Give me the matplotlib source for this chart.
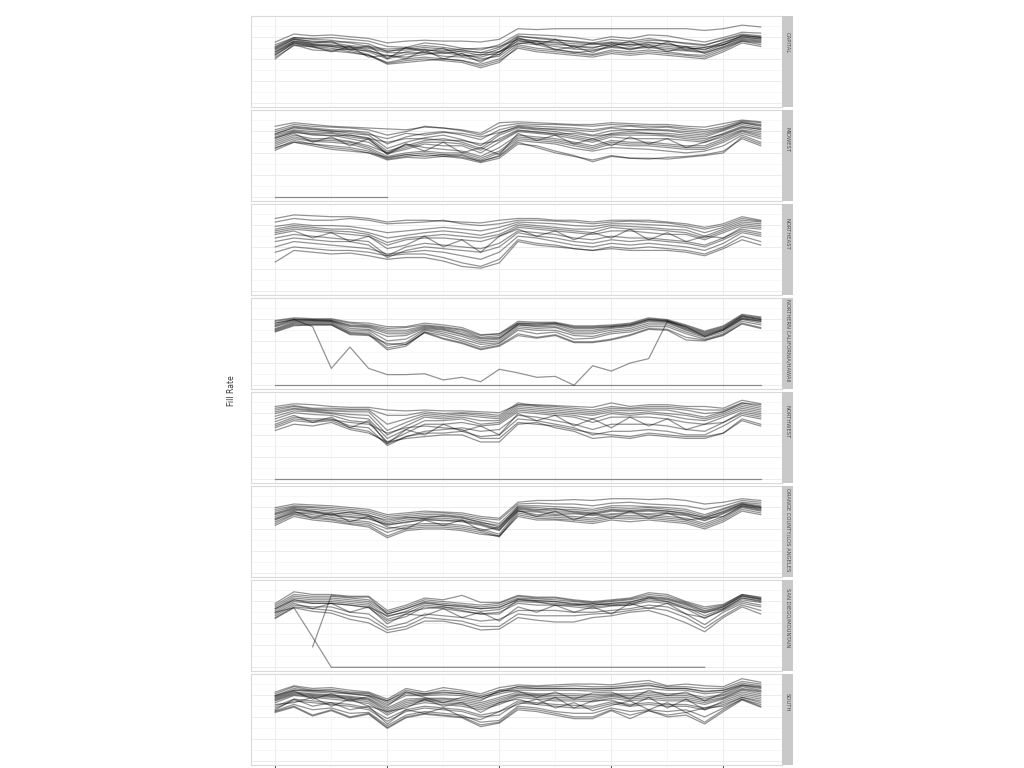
import numpy as np
import matplotlib.pyplot as plt

# weekly fill rate per store, one facet per region (values in percent)
weeks = np.arange(27)
regions = ["CAPITAL", "MIDWEST", "NORTHEAST", "NORTHERN CALIFORNIA/HAWAII",
           "NORTHWEST", "ORANGE COUNTY/LOS ANGELES", "SAN DIEGO/MOUNTAIN", "SOUTH"]
nan = np.nan

capital = [
    [69, 78, 76, 77, 75, 73, 68, 70, 71, 70, 70, 69, 72, 84, 83, 84, 84, 84, 84, 84, 84, 84, 84, 82, 84, 88, 86],
    [64, 74, 73, 74, 72, 70, 64, 63, 68, 66, 62, 60, 66, 78, 77, 76, 74, 71, 75, 73, 77, 76, 72, 69, 74, 80, 79],
    [61, 72, 70, 69, 69, 67, 58, 62, 65, 63, 60, 57, 63, 76, 73, 71, 70, 68, 72, 70, 73, 70, 67, 65, 72, 78, 76],
    [58, 70, 68, 70, 60, 65, 50, 63, 58, 62, 53, 55, 55, 74, 66, 72, 62, 68, 64, 70, 62, 69, 60, 63, 66, 76, 74],
    [56, 69, 66, 65, 64, 60, 52, 58, 61, 57, 54, 52, 58, 73, 70, 68, 64, 62, 68, 64, 68, 67, 63, 60, 69, 75, 72],
    [62, 72, 67, 66, 63, 62, 57, 57, 57, 56, 59, 57, 58, 70, 68, 66, 65, 63, 66, 66, 66, 64, 62, 61, 66, 74, 73],
    [54, 68, 65, 64, 62, 58, 50, 55, 57, 53, 52, 48, 55, 71, 67, 64, 61, 60, 64, 62, 64, 62, 60, 58, 66, 73, 71],
    [52, 65, 64, 58, 64, 52, 54, 50, 60, 50, 56, 46, 58, 67, 70, 60, 64, 57, 66, 60, 66, 58, 64, 56, 64, 72, 70],
    [50, 66, 60, 59, 57, 54, 46, 50, 52, 50, 48, 44, 50, 66, 62, 60, 58, 55, 60, 58, 60, 58, 55, 54, 62, 70, 68],
    [60, 70, 66, 64, 60, 55, 45, 48, 50, 48, 46, 40, 46, 64, 60, 58, 56, 54, 58, 56, 58, 56, 54, 52, 60, 70, 66],
    [66, 74, 72, 71, 68, 64, 61, 62, 60, 59, 61, 62, 64, 72, 70, 69, 67, 66, 68, 66, 69, 66, 64, 63, 68, 76, 75],
    [58, 68, 64, 62, 58, 54, 44, 46, 48, 50, 48, 42, 48, 62, 58, 56, 54, 52, 56, 54, 56, 54, 52, 50, 58, 68, 64],
    [55, 67, 63, 60, 61, 59, 54, 52, 55, 58, 56, 50, 53, 68, 66, 61, 57, 59, 63, 61, 63, 60, 59, 57, 63, 71, 69],
    [63, 73, 69, 68, 65, 63, 59, 60, 63, 61, 58, 54, 61, 75, 74, 72, 69, 67, 69, 68, 71, 70, 68, 66, 71, 77, 74],
]

midwest = [
    [80, 84, 82, 80, 79, 78, 77, 76, 79, 78, 76, 72, 84, 85, 84, 83, 82, 82, 84, 83, 82, 82, 80, 79, 83, 87, 85],
    [76, 82, 80, 79, 78, 76, 70, 74, 80, 78, 75, 70, 80, 83, 82, 82, 81, 80, 82, 81, 80, 80, 78, 76, 80, 86, 84],
    [74, 80, 78, 76, 75, 73, 60, 68, 72, 74, 70, 65, 76, 81, 80, 79, 78, 76, 79, 80, 78, 79, 76, 74, 78, 85, 82],
    [72, 78, 76, 75, 72, 70, 55, 62, 67, 70, 65, 58, 72, 80, 78, 76, 74, 70, 75, 76, 76, 75, 72, 70, 76, 84, 80],
    [70, 76, 74, 73, 70, 67, 52, 58, 64, 66, 62, 55, 70, 78, 76, 74, 70, 66, 72, 74, 72, 72, 70, 68, 75, 82, 78],
    [68, 75, 72, 72, 68, 65, 50, 56, 62, 62, 60, 53, 66, 76, 73, 72, 68, 64, 70, 70, 70, 69, 66, 64, 72, 80, 76],
    [66, 74, 70, 70, 66, 62, 49, 54, 60, 58, 58, 50, 62, 74, 72, 70, 66, 62, 68, 66, 66, 66, 64, 62, 70, 78, 74],
    [64, 72, 62, 68, 58, 66, 48, 60, 52, 62, 50, 56, 48, 72, 64, 70, 60, 66, 58, 68, 60, 66, 56, 62, 68, 76, 72],
    [62, 70, 66, 66, 63, 58, 50, 60, 56, 54, 52, 46, 56, 70, 68, 66, 62, 58, 64, 62, 62, 60, 58, 58, 66, 75, 70],
    [60, 68, 64, 64, 62, 56, 46, 50, 52, 50, 50, 44, 52, 68, 66, 64, 60, 56, 62, 60, 60, 58, 56, 56, 64, 74, 68],
    [58, 66, 63, 62, 60, 54, 44, 48, 50, 48, 48, 42, 50, 66, 64, 62, 58, 54, 60, 58, 58, 56, 54, 54, 62, 72, 66],
    [55, 64, 60, 58, 56, 52, 43, 46, 48, 46, 47, 40, 47, 64, 62, 60, 55, 52, 56, 55, 54, 52, 50, 52, 58, 70, 62],
    [53, 62, 58, 54, 52, 50, 42, 45, 44, 46, 44, 39, 44, 60, 58, 52, 47, 40, 46, 44, 43, 45, 46, 48, 52, 66, 58],
    [56, 62, 60, 56, 54, 50, 45, 48, 46, 48, 45, 41, 46, 62, 56, 50, 46, 42, 47, 44, 44, 43, 45, 47, 50, 68, 60],
    [71, 79, 77, 74, 74, 71, 66, 72, 70, 73, 72, 68, 73, 79, 77, 77, 76, 74, 78, 76, 76, 76, 74, 72, 77, 84, 81],
    [67, 73, 71, 69, 70, 66, 62, 66, 66, 64, 64, 60, 64, 75, 74, 71, 72, 69, 71, 72, 72, 70, 68, 66, 71, 79, 77],
    [0, 0, 0, 0, 0, 0, 0, nan, nan, nan, nan, nan, nan, nan, nan, nan, nan, nan, nan, nan, nan, nan, nan, nan, nan, nan, nan],
]

northeast = [
    [82, 86, 85, 84, 84, 82, 78, 80, 80, 79, 78, 77, 80, 82, 82, 80, 80, 78, 80, 80, 80, 78, 76, 72, 76, 84, 80],
    [78, 82, 80, 80, 82, 80, 76, 77, 78, 80, 76, 74, 76, 80, 80, 79, 78, 76, 78, 79, 78, 77, 74, 70, 74, 82, 79],
    [73, 76, 74, 74, 73, 70, 66, 68, 70, 72, 70, 68, 72, 78, 77, 76, 74, 73, 76, 76, 75, 74, 72, 66, 72, 80, 78],
    [70, 74, 72, 70, 70, 66, 60, 63, 66, 68, 66, 63, 68, 76, 74, 72, 70, 70, 74, 73, 72, 70, 69, 62, 70, 78, 76],
    [68, 72, 70, 68, 67, 64, 55, 60, 62, 64, 62, 60, 64, 74, 72, 70, 68, 66, 72, 70, 70, 68, 66, 60, 68, 76, 74],
    [66, 70, 68, 66, 64, 62, 52, 58, 60, 60, 58, 56, 62, 72, 70, 68, 66, 64, 68, 68, 66, 64, 64, 58, 66, 74, 72],
    [64, 68, 60, 66, 56, 62, 48, 52, 62, 50, 58, 44, 62, 70, 62, 68, 58, 66, 60, 70, 58, 66, 56, 62, 60, 72, 70],
    [60, 64, 62, 60, 58, 56, 40, 50, 54, 52, 50, 48, 54, 68, 66, 64, 60, 58, 62, 60, 60, 58, 56, 52, 60, 70, 66],
    [56, 60, 58, 56, 56, 52, 38, 46, 50, 48, 46, 44, 50, 66, 62, 60, 56, 54, 58, 56, 58, 56, 54, 50, 58, 68, 64],
    [50, 56, 54, 52, 50, 48, 42, 44, 46, 44, 40, 36, 44, 62, 60, 56, 52, 50, 54, 52, 54, 52, 50, 46, 54, 66, 62],
    [44, 50, 48, 46, 46, 44, 40, 42, 42, 38, 32, 28, 36, 58, 54, 52, 48, 46, 50, 48, 50, 48, 46, 42, 50, 62, 56],
    [33, 46, 44, 42, 43, 40, 36, 38, 38, 34, 28, 26, 32, 56, 52, 50, 48, 46, 48, 46, 46, 46, 44, 40, 48, 58, 52],
]

norcal = [
    [73, 76, 75, 75, 71, 70, 66, 66, 70, 68, 65, 57, 58, 72, 71, 71, 67, 67, 68, 70, 76, 74, 68, 61, 67, 80, 77],
    [72, 75, 74, 74, 70, 68, 64, 65, 68, 66, 63, 56, 58, 70, 70, 70, 66, 66, 67, 69, 75, 73, 67, 60, 66, 79, 76],
    [70, 74, 74, 73, 68, 67, 62, 62, 67, 65, 62, 54, 56, 70, 69, 70, 65, 65, 66, 68, 74, 73, 66, 59, 65, 78, 75],
    [68, 74, 73, 73, 67, 66, 60, 60, 66, 64, 60, 53, 54, 69, 68, 69, 64, 64, 66, 68, 74, 72, 65, 58, 64, 78, 74],
    [67, 73, 73, 72, 66, 65, 58, 58, 65, 63, 58, 52, 53, 68, 67, 68, 62, 62, 65, 67, 73, 72, 64, 57, 63, 77, 74],
    [66, 72, 72, 72, 64, 63, 55, 56, 64, 62, 57, 50, 52, 68, 66, 66, 60, 60, 64, 66, 72, 71, 63, 56, 63, 76, 73],
    [64, 71, 71, 71, 62, 62, 50, 52, 63, 60, 55, 48, 50, 66, 64, 65, 58, 58, 62, 64, 70, 70, 62, 55, 62, 75, 72],
    [63, 70, 70, 70, 60, 60, 45, 48, 62, 58, 52, 46, 48, 64, 62, 62, 56, 55, 60, 62, 68, 68, 60, 54, 60, 74, 70],
    [62, 69, 69, 69, 59, 58, 42, 46, 60, 56, 50, 43, 47, 62, 58, 60, 52, 53, 58, 60, 66, 66, 58, 52, 58, 72, 68],
    [60, 67, 68, 68, 58, 57, 40, 44, 60, 53, 48, 41, 45, 58, 54, 57, 49, 49, 52, 57, 64, 63, 54, 51, 56, 70, 65],
    [61, 68, 68, 68, 57, 56, 47, 46, 59, 52, 47, 40, 44, 56, 53, 56, 48, 48, 51, 56, 63, 62, 51, 50, 57, 69, 64],
    [70, 74, 66, 19, 43, 19, 12, 12, 13, 6, 9, 4, 18, 14, 9, 10, 0, 22, 16, 25, 30, 72, 66, 55, 62, 75, 72],
    [0] * 27,
]

northwest = [
    [82, 85, 84, 82, 81, 81, 78, 77, 78, 77, 77, 76, 75, 84, 84, 83, 82, 81, 86, 82, 84, 84, 82, 82, 80, 89, 85],
    [80, 83, 80, 80, 79, 79, 72, 72, 76, 74, 75, 74, 72, 86, 83, 82, 80, 78, 82, 80, 82, 82, 80, 78, 78, 86, 84],
    [78, 82, 79, 78, 78, 78, 62, 68, 74, 72, 74, 72, 70, 84, 82, 80, 78, 76, 80, 79, 80, 80, 78, 74, 76, 86, 82],
    [76, 80, 78, 77, 76, 76, 55, 64, 72, 70, 72, 70, 68, 82, 80, 78, 76, 74, 78, 77, 78, 78, 74, 70, 76, 84, 80],
    [74, 79, 77, 75, 73, 72, 50, 60, 70, 68, 70, 66, 66, 80, 78, 76, 74, 72, 76, 74, 76, 74, 72, 68, 74, 82, 78],
    [71, 77, 76, 74, 70, 68, 46, 56, 66, 66, 68, 62, 64, 78, 76, 74, 72, 68, 74, 72, 74, 72, 68, 66, 72, 80, 76],
    [68, 75, 73, 72, 66, 64, 42, 52, 62, 62, 64, 60, 62, 76, 74, 72, 70, 64, 70, 70, 70, 68, 64, 62, 70, 78, 74],
    [65, 72, 64, 70, 58, 66, 40, 56, 50, 62, 54, 60, 50, 74, 66, 72, 60, 68, 58, 70, 60, 68, 56, 62, 64, 76, 72],
    [62, 70, 68, 68, 60, 58, 38, 48, 54, 56, 58, 54, 56, 72, 70, 66, 62, 56, 62, 62, 62, 60, 56, 54, 64, 74, 70],
    [58, 66, 64, 66, 58, 54, 40, 48, 52, 52, 54, 48, 50, 68, 66, 62, 58, 50, 54, 54, 56, 54, 50, 50, 60, 72, 68],
    [55, 62, 60, 64, 56, 52, 42, 46, 48, 50, 50, 42, 42, 62, 64, 58, 54, 46, 48, 46, 50, 48, 46, 46, 52, 68, 62],
    [60, 68, 66, 67, 64, 62, 52, 58, 60, 58, 56, 46, 46, 64, 62, 60, 56, 52, 50, 48, 52, 50, 48, 48, 52, 66, 60],
    [0] * 27,
]

orange_la = [
    [74, 78, 77, 76, 74, 72, 66, 68, 70, 69, 68, 64, 62, 80, 82, 82, 83, 82, 84, 84, 83, 84, 82, 78, 80, 84, 82],
    [72, 76, 75, 74, 72, 70, 64, 66, 68, 68, 66, 62, 60, 78, 79, 78, 78, 76, 79, 80, 78, 77, 76, 72, 76, 82, 80],
    [70, 75, 74, 72, 70, 68, 62, 64, 66, 66, 64, 60, 56, 76, 76, 75, 74, 72, 76, 76, 75, 74, 72, 66, 73, 80, 78],
    [68, 74, 72, 70, 68, 66, 58, 62, 64, 64, 62, 58, 52, 75, 74, 72, 72, 70, 74, 73, 74, 72, 70, 64, 72, 79, 76],
    [66, 72, 70, 68, 66, 64, 56, 60, 62, 62, 60, 56, 50, 74, 72, 70, 70, 68, 72, 71, 72, 70, 68, 62, 70, 78, 75],
    [64, 71, 69, 66, 64, 62, 54, 58, 60, 60, 58, 54, 48, 72, 70, 68, 68, 66, 70, 69, 70, 68, 66, 60, 68, 77, 74],
    [62, 70, 62, 68, 58, 64, 52, 50, 60, 54, 60, 48, 52, 71, 64, 70, 60, 68, 62, 70, 62, 68, 60, 62, 64, 76, 72],
    [60, 69, 66, 63, 60, 58, 50, 54, 56, 56, 54, 50, 44, 70, 66, 65, 64, 62, 66, 65, 66, 64, 62, 56, 64, 75, 71],
    [58, 67, 64, 61, 58, 56, 46, 52, 54, 54, 52, 48, 42, 68, 64, 63, 62, 60, 64, 63, 64, 62, 60, 54, 62, 74, 70],
    [56, 66, 62, 60, 56, 54, 42, 50, 52, 52, 50, 46, 41, 66, 62, 61, 60, 58, 62, 61, 62, 60, 58, 52, 60, 72, 68],
    [54, 64, 60, 58, 55, 52, 40, 48, 50, 50, 48, 44, 42, 64, 60, 60, 58, 56, 60, 58, 60, 58, 56, 50, 58, 70, 66],
    [67, 73, 70, 66, 69, 65, 60, 63, 62, 65, 63, 57, 54, 73, 71, 73, 69, 67, 71, 70, 71, 70, 67, 63, 69, 78, 74],
    [61, 68, 68, 65, 63, 61, 55, 57, 61, 59, 59, 55, 49, 70, 69, 66, 67, 65, 67, 68, 67, 67, 65, 59, 67, 76, 73],
]

sandiego = [
    [72, 85, 82, 82, 80, 80, 64, 70, 78, 76, 81, 73, 73, 81, 79, 79, 76, 74, 76, 78, 84, 82, 74, 68, 71, 82, 79],
    [70, 82, 80, 80, 78, 76, 62, 68, 76, 74, 72, 70, 72, 80, 78, 78, 75, 73, 75, 77, 82, 80, 73, 66, 70, 82, 78],
    [68, 80, 78, 78, 76, 74, 60, 66, 74, 72, 70, 68, 70, 78, 77, 76, 74, 72, 74, 76, 80, 78, 72, 64, 69, 81, 77],
    [66, 78, 76, 76, 74, 72, 57, 63, 72, 70, 68, 66, 68, 76, 75, 74, 72, 70, 72, 74, 78, 76, 70, 61, 68, 80, 76],
    [64, 76, 74, 74, 72, 70, 54, 60, 70, 68, 66, 63, 65, 74, 73, 72, 70, 68, 70, 72, 76, 74, 68, 58, 66, 78, 75],
    [62, 74, 72, 72, 70, 67, 52, 57, 68, 66, 63, 60, 62, 72, 70, 70, 68, 66, 69, 70, 74, 72, 66, 55, 65, 76, 73],
    [60, 72, 66, 72, 62, 68, 49, 60, 58, 66, 56, 62, 52, 68, 62, 70, 62, 68, 60, 72, 66, 72, 60, 56, 64, 74, 70],
    [58, 70, 68, 68, 62, 60, 45, 50, 60, 58, 56, 52, 54, 64, 64, 64, 62, 62, 64, 66, 70, 68, 60, 48, 62, 72, 68],
    [56, 68, 66, 64, 58, 55, 42, 46, 56, 54, 52, 46, 46, 60, 58, 58, 58, 60, 61, 64, 67, 64, 56, 44, 58, 70, 64],
    [55, 67, 63, 61, 54, 50, 39, 43, 52, 52, 48, 42, 43, 56, 53, 51, 51, 56, 58, 62, 64, 58, 50, 40, 56, 68, 60],
    [66, 76, 72, 72, 70, 68, 58, 62, 66, 68, 64, 60, 60, 76, 74, 70, 70, 72, 70, 70, 78, 74, 66, 62, 66, 78, 74],
    [62, 67, 34, 0, 0, 0, 0, 0, 0, 0, 0, 0, 0, 0, 0, 0, 0, 0, 0, 0, 0, 0, 0, 0, nan, nan, nan],
    [nan, nan, 23, 81, 79, 79, 60, 66, 73, 70, 69, 66, 67, 77, 75, 74, 71, 70, 72, 73, 79, 77, 71, 63, 68, 80, 77],
]

south = [
    [78, 85, 82, 83, 80, 78, 70, 82, 78, 83, 80, 76, 83, 86, 85, 86, 87, 87, 86, 89, 91, 85, 87, 85, 84, 93, 89],
    [76, 84, 80, 81, 78, 77, 68, 80, 76, 80, 78, 74, 80, 84, 84, 84, 85, 84, 84, 86, 88, 84, 84, 82, 82, 90, 87],
    [74, 82, 79, 79, 77, 76, 66, 76, 75, 77, 76, 72, 78, 82, 82, 82, 82, 82, 82, 83, 85, 82, 82, 79, 80, 88, 85],
    [73, 80, 78, 77, 76, 74, 64, 74, 74, 75, 74, 70, 76, 80, 80, 80, 80, 79, 80, 80, 82, 80, 80, 76, 78, 86, 83],
    [72, 79, 70, 76, 68, 73, 62, 78, 72, 66, 72, 68, 80, 79, 72, 78, 70, 77, 78, 70, 80, 74, 78, 68, 77, 85, 82],
    [71, 78, 76, 75, 73, 71, 60, 70, 71, 71, 70, 66, 72, 78, 76, 76, 76, 75, 76, 76, 78, 76, 76, 72, 75, 84, 80],
    [70, 77, 75, 74, 72, 70, 58, 68, 70, 70, 68, 64, 70, 76, 75, 74, 74, 73, 75, 74, 76, 74, 74, 70, 74, 82, 79],
    [69, 76, 74, 73, 71, 69, 56, 66, 69, 68, 66, 62, 68, 75, 74, 72, 72, 71, 74, 72, 74, 72, 72, 68, 72, 81, 78],
    [68, 75, 73, 72, 70, 67, 54, 64, 68, 66, 64, 60, 66, 74, 72, 70, 70, 69, 73, 70, 72, 70, 70, 66, 71, 80, 76],
    [66, 74, 72, 70, 68, 65, 52, 62, 66, 64, 62, 58, 64, 72, 70, 68, 68, 67, 71, 68, 70, 68, 68, 64, 70, 78, 74],
    [64, 66, 72, 62, 70, 62, 56, 60, 70, 62, 66, 55, 66, 70, 64, 72, 60, 68, 69, 62, 72, 60, 70, 58, 68, 76, 72],
    [62, 70, 68, 66, 64, 60, 48, 58, 62, 60, 58, 52, 56, 68, 66, 64, 63, 62, 67, 64, 66, 64, 64, 60, 66, 74, 70],
    [60, 68, 66, 64, 62, 58, 45, 56, 60, 58, 56, 50, 52, 66, 64, 62, 60, 60, 65, 62, 64, 62, 62, 58, 64, 72, 68],
    [58, 70, 62, 66, 58, 62, 42, 58, 54, 60, 50, 47, 56, 64, 70, 60, 66, 57, 63, 68, 58, 66, 55, 60, 62, 72, 66],
    [57, 64, 58, 60, 54, 55, 40, 52, 56, 54, 52, 44, 46, 62, 60, 56, 54, 54, 60, 56, 58, 56, 58, 50, 60, 70, 64],
    [56, 62, 52, 58, 50, 54, 38, 50, 54, 52, 50, 41, 44, 60, 58, 54, 50, 50, 58, 52, 57, 52, 55, 44, 58, 70, 62],
    [55, 61, 51, 57, 49, 53, 37, 49, 53, 51, 49, 39, 43, 58, 56, 52, 48, 48, 57, 48, 57, 50, 52, 42, 56, 69, 61],
    [74, 80, 80, 79, 76, 74, 68, 78, 76, 78, 76, 72, 78, 84, 82, 82, 82, 81, 82, 84, 86, 82, 82, 78, 80, 86, 84],
]

panels = [capital, midwest, northeast, norcal, northwest, orange_la, sandiego, south]

# strip label centre, pixels below the panel top (labels sit a little high in the original)
label_offset = [27, 30, 30, 42, 30, 44, 38, 28]

W, H = 1024, 768
fig = plt.figure(figsize=(W / 100, H / 100), dpi=100)
fig.patch.set_facecolor("white")

left, right = 251, 782
strip_w = 11
top0, panel_h, step = 16, 91, 94

for k, (name, series) in enumerate(zip(regions, panels)):
    top = top0 + step * k
    ax = fig.add_axes([left / W, 1 - (top + panel_h) / H, (right - left) / W, panel_h / H])
    ax.set_facecolor("white")
    for vals in series:
        ax.plot(weeks, np.array(vals, dtype=float) / 100, color="black", alpha=0.42, lw=0.9)

    ax.set_xlim(-1.3, 27.14)
    ax.set_ylim(-0.042, 0.983)
    ax.set_xticks([0, 6, 12, 18, 24])
    ax.set_xticks([3, 9, 15, 21], minor=True)
    ax.set_yticks([0, 0.25, 0.5, 0.75])
    ax.set_yticks([0.125, 0.375, 0.625, 0.875], minor=True)
    ax.grid(which="major", color="#ececec", lw=0.7)
    ax.grid(which="minor", color="#f4f4f4", lw=0.5)
    ax.set_axisbelow(True)
    for sp in ax.spines.values():
        sp.set_color("#dadada")
        sp.set_linewidth(0.8)
    ax.set_yticklabels([])
    ax.tick_params(axis="y", which="both", length=0)
    ax.set_xticklabels([])
    if k == len(regions) - 1:
        ax.tick_params(axis="x", which="major", length=3, color="#333333", width=0.6)
        ax.tick_params(axis="x", which="minor", length=0)
    else:
        ax.tick_params(axis="x", which="both", length=0)

    sax = fig.add_axes([right / W, 1 - (top + panel_h) / H, strip_w / W, panel_h / H])
    sax.set_facecolor("#c9c9c9")
    sax.set_xticks([])
    sax.set_yticks([])
    for sp in sax.spines.values():
        sp.set_visible(False)
    sax.text(0.5, 1 - label_offset[k] / panel_h, name, rotation=-90, ha="center", va="center",
             fontsize=3.8, color="#4d4d4d", transform=sax.transAxes)

fig.text(232 / W, 1 - 391 / H, "Fill Rate", rotation=90, ha="center", va="center",
         fontsize=5.5, color="#333333")

plt.savefig("out.png", dpi=100)
